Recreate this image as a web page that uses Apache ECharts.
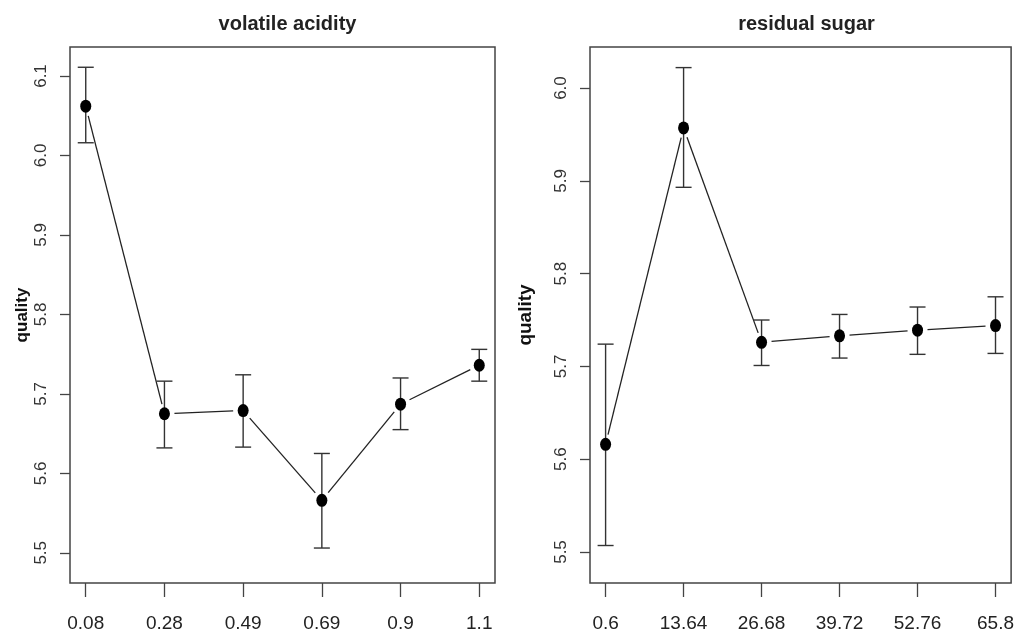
<!DOCTYPE html>
<html>
<head>
<meta charset="utf-8">
<script src="https://cdn.jsdelivr.net/npm/echarts@6/dist/echarts.min.js"></script>
<style>
html,body{margin:0;padding:0;background:#fff;}
#chart{width:1017px;height:635px;}
</style>
</head>
<body>
<div id="chart"></div>
<script>
// ---- data ----
const vaTitle = 'volatile acidity';
const vaLabels = ['0.08', '0.28', '0.49', '0.69', '0.9', '1.1'];
const vaMean  = [6.062, 5.675, 5.679, 5.566, 5.687, 5.736];
const vaLower = [6.016, 5.632, 5.633, 5.506, 5.655, 5.716];
const vaUpper = [6.111, 5.716, 5.724, 5.625, 5.720, 5.756];
const vaTicks = [5.5, 5.6, 5.7, 5.8, 5.9, 6.0, 6.1];

const rsTitle = 'residual sugar';
const rsLabels = ['0.6', '13.64', '26.68', '39.72', '52.76', '65.8'];
const rsMean  = [5.616, 5.957, 5.726, 5.733, 5.739, 5.744];
const rsLower = [5.507, 5.893, 5.701, 5.709, 5.713, 5.714];
const rsUpper = [5.724, 6.022, 5.750, 5.756, 5.764, 5.775];
const rsTicks = [5.5, 5.6, 5.7, 5.8, 5.9, 6.0];

const yName = 'quality';

// ---- build ----
const chart = echarts.init(document.getElementById('chart'));
const FONT = '"Liberation Sans", Arial, sans-serif';

function xAxisFor(gridIndex, labels) {
  return {
    type: 'value', gridIndex, min: -0.2, max: labels.length - 1 + 0.2,
    axisLine: { show: false, onZero: false },
    splitLine: { show: false },
    axisTick: { show: true, customValues: labels.map((_, i) => i), length: 14, lineStyle: { color: '#444', width: 1.3 } },
    axisLabel: { customValues: labels.map((_, i) => i), formatter: v => labels[Math.round(v)], margin: 31,
      fontFamily: FONT, fontSize: 19, color: '#222' }
  };
}
function yAxisFor(gridIndex, ticks, min, max, nameGap, nameSize) {
  return {
    type: 'value', gridIndex, min, max,
    name: yName, nameLocation: 'middle', nameGap, nameRotate: 90, nameMoveOverlap: false,
    nameTextStyle: { fontFamily: FONT, fontSize: nameSize, fontWeight: 'bold', color: '#111' },
    axisLine: { show: false, onZero: false },
    splitLine: { show: false },
    axisTick: { show: true, customValues: ticks, length: 10, lineStyle: { color: '#444', width: 1.3 } },
    axisLabel: { customValues: ticks, rotate: 90, formatter: v => v.toFixed(1), margin: 20,
      fontFamily: FONT, fontSize: 17, color: '#333' }
  };
}
function errorSeries(k, lower, upper) {
  return {
    type: 'custom', xAxisIndex: k, yAxisIndex: k, silent: true, z: 3,
    data: lower.map((lo, i) => [i, lo, upper[i]]),
    renderItem: (params, api) => {
      const x = api.value(0);
      const pLo = api.coord([x, api.value(1)]);
      const pHi = api.coord([x, api.value(2)]);
      const hw = 8;
      const st = { stroke: '#333', lineWidth: 1.4, fill: null };
      return { type: 'group', children: [
        { type: 'line', shape: { x1: pLo[0], y1: pLo[1], x2: pHi[0], y2: pHi[1] }, style: st },
        { type: 'line', shape: { x1: pLo[0] - hw, y1: pLo[1], x2: pLo[0] + hw, y2: pLo[1] }, style: st },
        { type: 'line', shape: { x1: pHi[0] - hw, y1: pHi[1], x2: pHi[0] + hw, y2: pHi[1] }, style: st }
      ]};
    }
  };
}
function segmentSeries(k, mean) {
  const segs = [];
  for (let i = 0; i < mean.length - 1; i++) segs.push([i, mean[i], i + 1, mean[i + 1]]);
  return {
    type: 'custom', xAxisIndex: k, yAxisIndex: k, silent: true, z: 2,
    data: segs,
    renderItem: (params, api) => {
      const a = api.coord([api.value(0), api.value(1)]);
      const b = api.coord([api.value(2), api.value(3)]);
      const dx = b[0] - a[0], dy = b[1] - a[1];
      const L = Math.sqrt(dx * dx + dy * dy);
      const g = 10;
      const ux = dx / L, uy = dy / L;
      return { type: 'line',
        shape: { x1: a[0] + ux * g, y1: a[1] + uy * g, x2: b[0] - ux * g, y2: b[1] - uy * g },
        style: { stroke: '#222', lineWidth: 1.3 } };
    }
  };
}
function dotSeries(k, mean) {
  return {
    type: 'scatter', xAxisIndex: k, yAxisIndex: k, z: 4,
    symbol: 'circle', symbolSize: [11, 13],
    itemStyle: { color: '#000', opacity: 1 },
    data: mean.map((v, i) => [i, v])
  };
}

const option = {
  backgroundColor: '#fff',
  animation: false,
  title: [
    { text: vaTitle, left: 282.5, top: 9, textAlign: 'center',
      textStyle: { fontFamily: FONT, fontSize: 20, fontWeight: 'bold', color: '#222' } },
    { text: rsTitle, left: 801.5, top: 9, textAlign: 'center',
      textStyle: { fontFamily: FONT, fontSize: 20, fontWeight: 'bold', color: '#222' } }
  ],
  grid: [
    { left: 70, right: 522, top: 47, bottom: 52, show: true, borderColor: '#444', borderWidth: 1.5, backgroundColor: 'transparent' },
    { left: 590, right: 4, top: 47, bottom: 52, show: true, borderColor: '#444', borderWidth: 1.5, backgroundColor: 'transparent' }
  ],
  xAxis: [ xAxisFor(0, vaLabels), xAxisFor(1, rsLabels) ],
  yAxis: [ yAxisFor(0, vaTicks, 5.462, 6.1365, 39, 17), yAxisFor(1, rsTicks, 5.4666, 6.0442, 55, 19) ],
  series: [
    segmentSeries(0, vaMean), errorSeries(0, vaLower, vaUpper), dotSeries(0, vaMean),
    segmentSeries(1, rsMean), errorSeries(1, rsLower, rsUpper), dotSeries(1, rsMean)
  ]
};
chart.setOption(option);
</script>
</body>
</html>
